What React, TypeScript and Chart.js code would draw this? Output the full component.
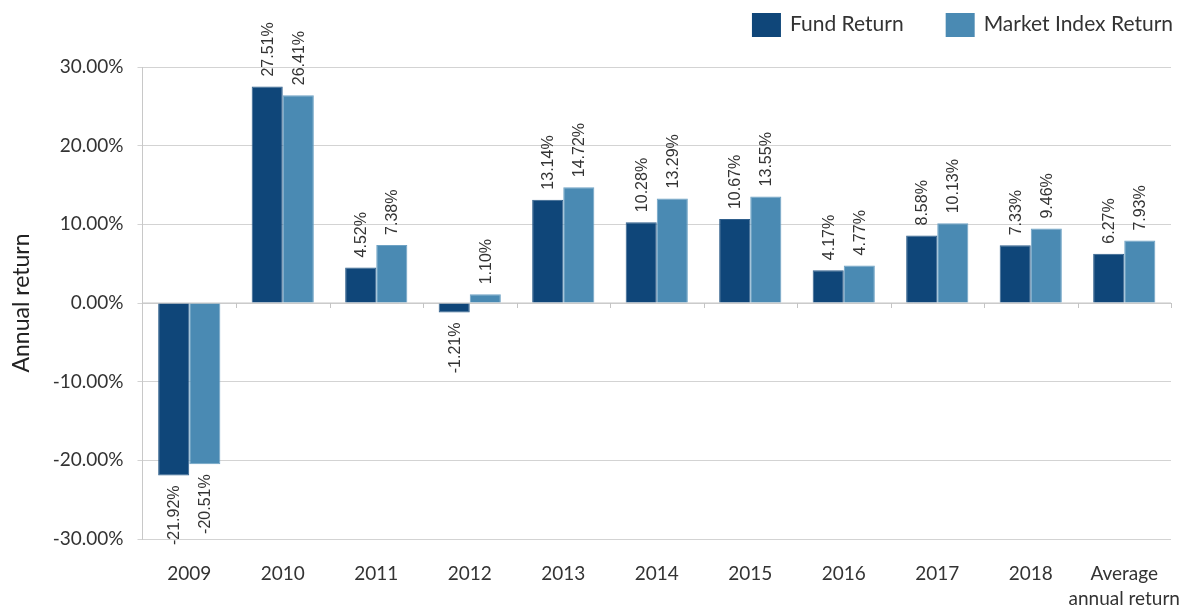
import React, { useEffect, useRef } from "react";
import { Chart, registerables } from "chart.js";

Chart.register(...registerables);

const categories: (string | string[])[] = [
  "2009", "2010", "2011", "2012", "2013", "2014", "2015", "2016", "2017", "2018",
  ["Average", "annual return"],
];
const fundReturn = [-21.92, 27.51, 4.52, -1.21, 13.14, 10.28, 10.67, 4.17, 8.58, 7.33, 6.27];
const indexReturn = [-20.51, 26.41, 7.38, 1.1, 14.72, 13.29, 13.55, 4.77, 10.13, 9.46, 7.93];
const seriesNames = ["Fund Return", "Market Index Return"];
const seriesColors = ["#0f4679", "#4a8ab3"];
const seriesBorders = ["#2f5f8c", "#6ea2c4"];
const yTicks = [-30, -20, -10, 0, 10, 20, 30];

const AXIS_FONT = "Lato, 'Open Sans', sans-serif";
const LABEL_FONT = "'Liberation Sans', Arial, sans-serif";
const TEXT_COLOR = "#333333";
const GRID_COLOR = "#d3d3d3";

const valueLabels = {
  id: "valueLabels",
  afterDatasetsDraw(chart: any) {
    const ctx = chart.ctx;
    ctx.save();
    ctx.font = `16px ${LABEL_FONT}`;
    ctx.fillStyle = TEXT_COLOR;
    ctx.textBaseline = "middle";
    chart.data.datasets.forEach((ds: any, di: number) => {
      const meta = chart.getDatasetMeta(di);
      meta.data.forEach((bar: any, i: number) => {
        const v = ds.data[i] as number;
        const txt = v.toFixed(2) + "%";
        ctx.save();
        ctx.translate(bar.x + 1, bar.y);
        ctx.rotate(-Math.PI / 2);
        if (v >= 0) {
          ctx.textAlign = "left";
          ctx.fillText(txt, 10, 0);
        } else {
          ctx.textAlign = "right";
          ctx.fillText(txt, -10, 0);
        }
        ctx.restore();
      });
    });
    ctx.restore();
  },
};

const zeroAxisTicks = {
  id: "zeroAxisTicks",
  beforeDatasetsDraw(chart: any) {
    const ctx = chart.ctx;
    const xs = chart.scales.x;
    const ys = chart.scales.y;
    const y0 = ys.getPixelForValue(0);
    const n = chart.data.labels.length;
    ctx.save();
    ctx.strokeStyle = "#c4c4c4";
    ctx.lineWidth = 1;
    ctx.beginPath();
    ctx.moveTo(chart.chartArea.left, y0);
    ctx.lineTo(chart.chartArea.right, y0);
    for (let i = 0; i < n; i++) {
      const bx =
        i < n - 1
          ? (xs.getPixelForValue(i) + xs.getPixelForValue(i + 1)) / 2
          : chart.chartArea.right;
      ctx.moveTo(Math.round(bx) + 0.5, y0);
      ctx.lineTo(Math.round(bx) + 0.5, y0 + 5);
    }
    ctx.stroke();
    ctx.restore();
  },
};

const customLegend = {
  id: "customLegend",
  afterDraw(chart: any) {
    const ctx = chart.ctx;
    ctx.save();
    ctx.font = `21px ${AXIS_FONT}`;
    ctx.textBaseline = "middle";
    ctx.textAlign = "left";
    let x = chart.chartArea.right + 2;
    const items = chart.data.datasets.map((ds: any) => ({
      text: ds.label,
      color: ds.backgroundColor,
    }));
    for (let k = items.length - 1; k >= 0; k--) {
      const it = items[k];
      const w = ctx.measureText(it.text).width;
      const tx = x - w;
      ctx.fillStyle = TEXT_COLOR;
      ctx.fillText(it.text, tx, 24);
      const bx = tx - 9 - 29;
      ctx.fillStyle = it.color;
      ctx.fillRect(bx, 13, 29, 24);
      x = bx - 42;
    }
    ctx.restore();
  },
};

export default function App() {
  const ref = useRef<HTMLCanvasElement | null>(null);

  useEffect(() => {
    document.body.style.margin = "0";
    const canvas = ref.current;
    if (!canvas) return;
    const chart = new Chart(canvas, {
      type: "bar",
      data: {
        labels: categories,
        datasets: [
          {
            label: seriesNames[0],
            data: fundReturn,
            backgroundColor: seriesColors[0],
            borderColor: seriesBorders[0],
            borderWidth: 1,
            categoryPercentage: 0.665,
            barPercentage: 1.0,
          },
          {
            label: seriesNames[1],
            data: indexReturn,
            backgroundColor: seriesColors[1],
            borderColor: seriesBorders[1],
            borderWidth: 1,
            categoryPercentage: 0.665,
            barPercentage: 1.0,
          },
        ],
      },
      options: {
        responsive: false,
        animation: false,
        layout: { padding: { top: 67, right: 16, left: 0, bottom: 0 } },
        plugins: {
          legend: { display: false },
          tooltip: { enabled: false },
        },
        scales: {
          x: {
            grid: { display: false },
            border: { display: false },
            ticks: {
              color: TEXT_COLOR,
              font: { family: AXIS_FONT, size: 19, lineHeight: 1.3 },
              padding: 15,
              maxRotation: 0,
              autoSkip: false,
            },
            afterFit: (scale: any) => {
              scale.height = 68;
              scale.paddingLeft = 0;
              scale.paddingRight = 0;
            },
          },
          y: {
            min: -30,
            max: 30,
            afterBuildTicks: (scale: any) => {
              scale.ticks = yTicks.map((v) => ({ value: v }));
            },
            grid: {
              color: GRID_COLOR,
              tickLength: 5,
              tickColor: GRID_COLOR,
            },
            border: { display: true, color: "#c8c8c8" },
            ticks: {
              color: TEXT_COLOR,
              font: { family: AXIS_FONT, size: 19 },
              padding: 14,
              callback: (v: any) => Number(v).toFixed(2) + "%",
            },
            title: {
              display: true,
              text: "Annual return",
              color: "#222222",
              font: { family: AXIS_FONT, size: 23 },
              padding: { top: 8, bottom: 0 },
            },
            afterFit: (scale: any) => {
              scale.width = 142.5;
            },
          },
        },
      },
      plugins: [zeroAxisTicks, valueLabels, customLegend],
    });
    return () => chart.destroy();
  }, []);

  return (
    <div style={{ width: 1187, height: 607 }}>
      <canvas ref={ref} width={1187} height={607} />
    </div>
  );
}
